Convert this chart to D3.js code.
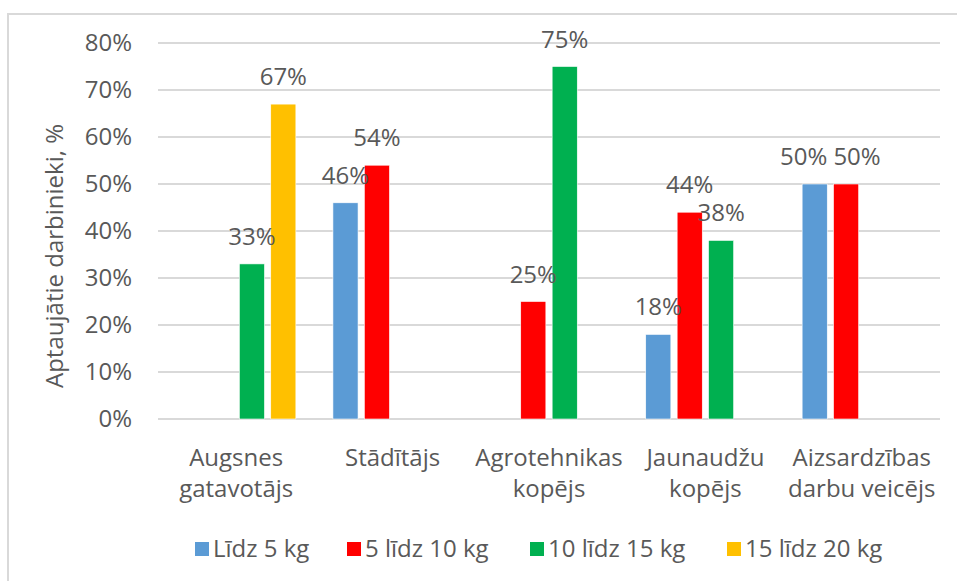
<!DOCTYPE html>
<html>
<head>
<meta charset="utf-8">
<script src="https://cdn.jsdelivr.net/npm/d3@7"></script>
<style>
  body { margin: 0; background: #fff; }
  text { font-family: 'Open Sans', sans-serif; fill: #595959; }
</style>
</head>
<body>
<svg width="957" height="581"></svg>
<script>
// categories (two lines each) and series
const categories = [
  ['Augsnes', 'gatavotājs'],
  ['Stādītājs'],
  ['Agrotehnikas', 'kopējs'],
  ['Jaunaudžu', 'kopējs'],
  ['Aizsardzības', 'darbu veicējs']
];
const seriesNames = ['Līdz 5 kg', '5 līdz 10 kg', '10 līdz 15 kg', '15 līdz 20 kg'];
const seriesColors = ['#5B9BD5', '#FF0000', '#00B050', '#FFC000'];

// values in %, null = no bar
const lidz5 = [null, 46, null, 18, 50];
const no5lidz10 = [null, 54, 25, 44, 50];
const no10lidz15 = [33, null, 75, 38, null];
const no15lidz20 = [67, null, null, null, null];
const seriesValues = [lidz5, no5lidz10, no10lidz15, no15lidz20];

const yTicks = [0, 10, 20, 30, 40, 50, 60, 70, 80];

const svg = d3.select('svg');
const width = +svg.attr('width');
const height = +svg.attr('height');
const fs = '24px';

// chart frame (right and bottom run off the picture)
svg.append('rect')
  .attr('x', 8).attr('y', 14)
  .attr('width', 1000).attr('height', 1000)
  .attr('fill', 'none')
  .attr('stroke', '#D9D9D9')
  .attr('stroke-width', 2);

const margin = { top: 43, left: 158, right: 17, bottom: 162 };
const innerW = width - margin.left - margin.right;
const innerH = height - margin.top - margin.bottom;

const g = svg.append('g').attr('transform', `translate(${margin.left},${margin.top})`);

const catKeys = categories.map((c) => c.join(' '));

const x0 = d3.scaleBand().domain(catKeys).range([0, innerW]);
const x1 = d3.scaleBand()
  .domain(seriesNames)
  .range([0, x0.bandwidth()])
  .paddingInner(0.2)
  .paddingOuter(0.59);
const y = d3.scaleLinear().domain([0, 80]).range([innerH, 0]);

// gridlines
g.append('g')
  .selectAll('line')
  .data(yTicks)
  .enter()
  .append('line')
  .attr('x1', 0)
  .attr('x2', innerW)
  .attr('y1', (d) => y(d))
  .attr('y2', (d) => y(d))
  .attr('stroke', '#D9D9D9')
  .attr('stroke-width', 2);

// y axis labels
const yAxis = g.append('g')
  .call(d3.axisLeft(y).tickValues(yTicks).tickFormat((d) => d + '%').tickSize(0).tickPadding(26));
yAxis.select('.domain').remove();
yAxis.selectAll('text')
  .style('font-size', fs)
  .attr('fill', '#595959');

// y axis title
svg.append('text')
  .attr('transform', `translate(63,256) rotate(-90)`)
  .attr('text-anchor', 'middle')
  .style('font-size', fs)
  .text('Aptaujātie darbinieki, %');

// bars
const rows = [];
catKeys.forEach((cat, i) => {
  seriesNames.forEach((s, j) => {
    const v = seriesValues[j][i];
    if (v !== null) rows.push({ cat, s, v, color: seriesColors[j] });
  });
});

g.selectAll('rect.bar')
  .data(rows)
  .enter()
  .append('rect')
  .attr('class', 'bar')
  .attr('x', (d) => x0(d.cat) + x1(d.s))
  .attr('y', (d) => y(d.v))
  .attr('width', x1.bandwidth())
  .attr('height', (d) => innerH - y(d.v))
  .attr('fill', (d) => d.color)
  .attr('stroke', '#fff')
  .attr('stroke-width', 0.6);

// data labels
const labels = g.selectAll('text.lbl')
  .data(rows)
  .enter()
  .append('text')
  .attr('class', 'lbl')
  .attr('x', (d) => x0(d.cat) + x1(d.s) + x1.bandwidth() / 2)
  .attr('y', (d) => y(d.v) - 19)
  .attr('text-anchor', 'middle')
  .style('font-size', fs)
  .text((d) => d.v + '%');

// push apart labels that sit on the same line and would overlap
const lblNodes = labels.nodes();
for (let i = 1; i < lblNodes.length; i++) {
  const a = lblNodes[i - 1], b = lblNodes[i];
  const da = d3.select(a).datum(), db = d3.select(b).datum();
  if (da.cat !== db.cat || Math.abs(y(da.v) - y(db.v)) > 20) continue;
  const ax = +a.getAttribute('x'), bx = +b.getAttribute('x');
  const need = (a.getComputedTextLength() + b.getComputedTextLength()) / 2 + 6;
  const gap = bx - ax;
  if (gap < need) {
    const shift = (need - gap) / 2;
    a.setAttribute('x', ax - shift);
    b.setAttribute('x', bx + shift);
  }
}

// category labels
const catG = g.append('g').attr('transform', `translate(0,${innerH})`);
categories.forEach((lines, i) => {
  const t = catG.append('text')
    .attr('x', x0(catKeys[i]) + x0.bandwidth() / 2)
    .attr('y', 47)
    .attr('text-anchor', 'middle')
    .style('font-size', fs);
  lines.forEach((ln, k) => {
    t.append('tspan')
      .attr('x', x0(catKeys[i]) + x0.bandwidth() / 2)
      .attr('dy', k === 0 ? 0 : 31)
      .text(ln);
  });
});

// legend
const legendX = [195, 347, 530, 727];
const legend = svg.append('g');
seriesNames.forEach((s, i) => {
  legend.append('rect')
    .attr('x', legendX[i])
    .attr('y', 542)
    .attr('width', 14)
    .attr('height', 14)
    .attr('fill', seriesColors[i]);
  legend.append('text')
    .attr('x', legendX[i] + 18)
    .attr('y', 557)
    .style('font-size', fs)
    .text(s);
});
</script>
</body>
</html>
